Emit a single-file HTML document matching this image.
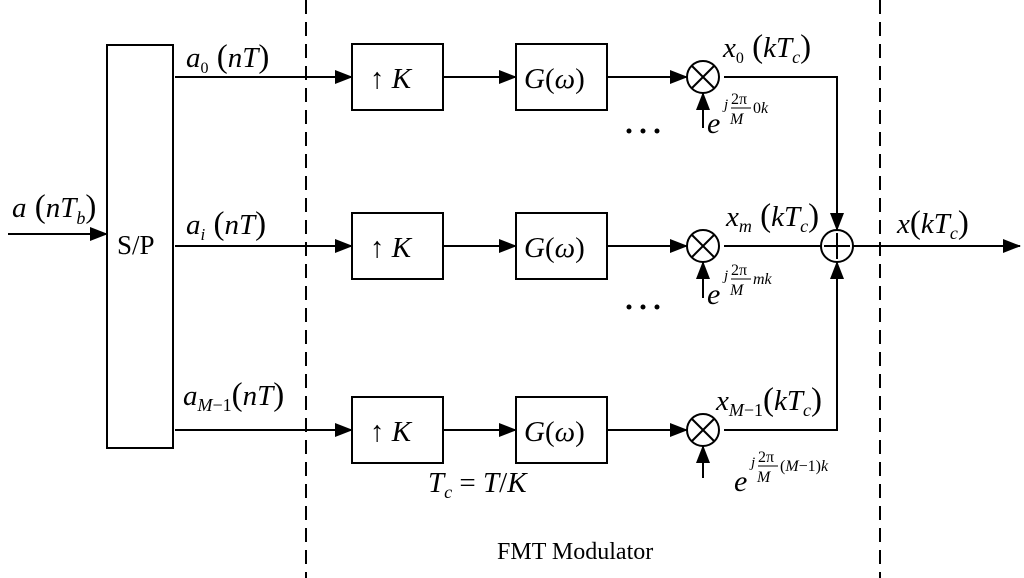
<!DOCTYPE html>
<html><head><style>body{margin:0;background:#fff}svg{display:block}</style></head><body>
<svg width="1024" height="578" viewBox="0 0 1024 578" xmlns="http://www.w3.org/2000/svg" font-family="Liberation Serif, serif">
<defs>
<marker id="b" markerWidth="18" markerHeight="14" refX="17" refY="7" orient="auto" markerUnits="userSpaceOnUse" viewBox="0 0 18 14"><path d="M0,0 L18,7 L0,14 z" fill="#000"/></marker></defs>
<g stroke="#000" stroke-width="2" fill="none">
<line x1="306" y1="0" x2="306" y2="578" stroke-dasharray="14,8"/>
<line x1="880" y1="0" x2="880" y2="578" stroke-dasharray="14,8"/>
<rect x="107" y="45" width="66" height="403"/>
<line x1="8" y1="234" x2="107" y2="234" marker-end="url(#b)"/>
<g>
<rect x="352" y="44" width="91" height="66"/><rect x="516" y="44" width="91" height="66"/>
<line x1="175" y1="77" x2="352" y2="77" marker-end="url(#b)"/>
<line x1="443" y1="77" x2="516" y2="77" marker-end="url(#b)"/>
<line x1="607" y1="77" x2="687" y2="77" marker-end="url(#b)"/>
<circle cx="703" cy="77" r="16"/><line x1="692" y1="66" x2="714" y2="88"/><line x1="714" y1="66" x2="692" y2="88"/>
<line x1="703" y1="128" x2="703" y2="93" marker-end="url(#b)"/>
<polyline points="724,77 837,77 837,230" marker-end="url(#b)"/>
</g>
<g>
<rect x="352" y="213" width="91" height="66"/><rect x="516" y="213" width="91" height="66"/>
<line x1="175" y1="246" x2="352" y2="246" marker-end="url(#b)"/>
<line x1="443" y1="246" x2="516" y2="246" marker-end="url(#b)"/>
<line x1="607" y1="246" x2="687" y2="246" marker-end="url(#b)"/>
<circle cx="703" cy="246" r="16"/><line x1="692" y1="235" x2="714" y2="257"/><line x1="714" y1="235" x2="692" y2="257"/>
<line x1="703" y1="298" x2="703" y2="262" marker-end="url(#b)"/>
<line x1="724" y1="246" x2="822" y2="246"/>
</g>
<g>
<rect x="352" y="397" width="91" height="66"/><rect x="516" y="397" width="91" height="66"/>
<line x1="175" y1="430" x2="352" y2="430" marker-end="url(#b)"/>
<line x1="443" y1="430" x2="516" y2="430" marker-end="url(#b)"/>
<line x1="607" y1="430" x2="687" y2="430" marker-end="url(#b)"/>
<circle cx="703" cy="430" r="16"/><line x1="692" y1="419" x2="714" y2="441"/><line x1="714" y1="419" x2="692" y2="441"/>
<line x1="703" y1="478" x2="703" y2="446" marker-end="url(#b)"/>
<polyline points="724,430 837,430 837,262" marker-end="url(#b)"/>
</g>
<circle cx="837" cy="246" r="16"/><line x1="837" y1="233" x2="837" y2="259"/><line x1="824" y1="246" x2="850" y2="246"/>
<line x1="853" y1="246" x2="1020" y2="246" marker-end="url(#b)"/>
</g>
<g fill="#000">
<circle cx="629" cy="131" r="2.5"/><circle cx="643" cy="131" r="2.5"/><circle cx="657" cy="131" r="2.5"/>
<circle cx="629" cy="307" r="2.5"/><circle cx="643" cy="307" r="2.5"/><circle cx="657" cy="307" r="2.5"/>
</g>
<g font-size="29" fill="#000">
<text x="117" y="254" font-size="27">S/P</text>
<text x="12" y="217" font-style="italic">a<tspan font-style="normal" font-size="33"> (</tspan>nT<tspan font-size="18" dy="7">b</tspan><tspan font-style="normal" dy="-7" font-size="33">)</tspan></text>
<text x="186" y="67" font-style="italic">a<tspan font-size="16" dy="6" font-style="normal">0</tspan><tspan font-style="normal" dy="-6" font-size="33"> (</tspan>nT<tspan font-style="normal" font-size="33">)</tspan></text>
<text x="186" y="234" font-style="italic">a<tspan font-size="17" dy="6">i</tspan><tspan font-style="normal" dy="-6" font-size="33"> (</tspan>nT<tspan font-style="normal" font-size="33">)</tspan></text>
<text x="183" y="405" font-style="italic">a<tspan font-size="18" dy="6">M</tspan><tspan font-size="18" font-style="normal">−1</tspan><tspan font-style="normal" dy="-6" font-size="33">(</tspan>nT<tspan font-style="normal" font-size="33">)</tspan></text>
<text x="370" y="88">↑ <tspan font-style="italic">K</tspan></text>
<text x="370" y="257">↑ <tspan font-style="italic">K</tspan></text>
<text x="370" y="441">↑ <tspan font-style="italic">K</tspan></text>
<text x="524" y="88"><tspan font-style="italic">G</tspan>(<tspan font-style="italic">ω</tspan>)</text>
<text x="524" y="257"><tspan font-style="italic">G</tspan>(<tspan font-style="italic">ω</tspan>)</text>
<text x="524" y="441"><tspan font-style="italic">G</tspan>(<tspan font-style="italic">ω</tspan>)</text>
<text x="723" y="57" font-style="italic">x<tspan font-size="16" dy="6" font-style="normal">0</tspan><tspan font-style="normal" dy="-6" font-size="33"> (</tspan>kT<tspan font-size="18" dy="6">c</tspan><tspan font-style="normal" dy="-6" font-size="33">)</tspan></text>
<text x="726" y="226" font-style="italic">x<tspan font-size="18" dy="6">m</tspan><tspan font-style="normal" dy="-6" font-size="33"> (</tspan>kT<tspan font-size="18" dy="6">c</tspan><tspan font-style="normal" dy="-6" font-size="33">)</tspan></text>
<text x="716" y="410" font-style="italic">x<tspan font-size="18" dy="6">M</tspan><tspan font-size="18" font-style="normal">−1</tspan><tspan font-style="normal" dy="-6" font-size="33">(</tspan>kT<tspan font-size="18" dy="6">c</tspan><tspan font-style="normal" dy="-6" font-size="33">)</tspan></text>
<text x="897" y="233" font-style="italic">x<tspan font-style="normal" font-size="33">(</tspan>kT<tspan font-size="18" dy="6">c</tspan><tspan font-style="normal" dy="-6" font-size="33">)</tspan></text>
<text x="428" y="492" font-style="italic">T<tspan font-size="18" dy="6">c</tspan><tspan font-style="normal" dy="-6"> = </tspan>T<tspan font-style="normal">/</tspan>K</text>
<text x="497" y="559" font-size="24">FMT Modulator</text>
</g>
<g fill="#000" font-style="italic">
<text x="707" y="133" font-size="30">e</text>
<text x="724" y="109" font-size="15">j</text><text x="731" y="104" font-size="16" font-style="normal">2π</text><line x1="731" y1="108" x2="751" y2="108" stroke="#000"/><text x="730" y="124" font-size="16">M</text><text x="753" y="113" font-size="16"><tspan font-style="normal">0</tspan>k</text>
<text x="707" y="304" font-size="30">e</text>
<text x="724" y="280" font-size="15">j</text><text x="731" y="275" font-size="16" font-style="normal">2π</text><line x1="731" y1="279" x2="751" y2="279" stroke="#000"/><text x="730" y="295" font-size="16">M</text><text x="753" y="284" font-size="16">mk</text>
<text x="734" y="491" font-size="30">e</text>
<text x="751" y="467" font-size="15">j</text><text x="758" y="462" font-size="16" font-style="normal">2π</text><line x1="758" y1="466" x2="778" y2="466" stroke="#000"/><text x="757" y="482" font-size="16">M</text><text x="780" y="471" font-size="16"><tspan font-style="normal">(</tspan>M<tspan font-style="normal">−1)</tspan>k</text>
</g>
</svg>
</body></html>
